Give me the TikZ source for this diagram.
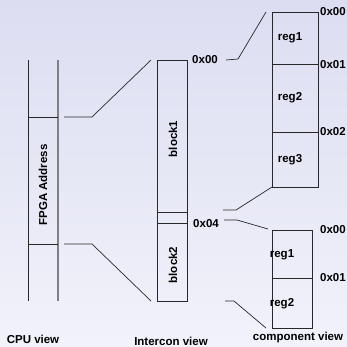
\documentclass[tikz,border=0pt]{standalone}
\usepackage{fontspec}
\setmainfont{Liberation Sans}
\usetikzlibrary{positioning}

\definecolor{bgtop}{RGB}{220,221,241}
\definecolor{bgbot}{RGB}{241,242,250}
\definecolor{edge}{RGB}{40,40,40}

\tikzset{
    txt/.style={font=\bfseries\fontsize{11.5}{13}\selectfont, inner sep=0pt},
    box/.style={draw=edge, line width=0.8pt},
    wire/.style={draw=edge, line width=0.7pt},
}

\begin{document}
\begin{tikzpicture}[x=1pt, y=-1pt]
    \shade[top color=bgtop, bottom color=bgbot] (0,0) rectangle (347,346);
    \useasboundingbox (0,0) rectangle (347,346);

    % CPU view
    \draw[box] (28,60) -- (28,301);
    \draw[line width=1.6pt, gray] (58,60) -- (58,301);
    \draw[box] (28,117) -- (58,117);
    \draw[box] (28,244) -- (58,244);
    \node[txt, rotate=90] (fpga) at (43,185) {FPGA Address};

    % Intercon view
    \draw[box] (157,60) rectangle (187,301);
    \draw[box] (157,212) -- (187,212);
    \draw[box] (157,223) -- (187,223);
    \node[txt, rotate=90] (block1) at (173,139) {block1};
    \node[txt, rotate=90] (block2) at (173,265) {block2};

    % component view
    \draw[box] (272,12) rectangle (318,187);
    \draw[box] (272,64) -- (318,64);
    \draw[box] (272,132) -- (318,132);
    \node[txt] (r1a) at (290,38) {reg1};
    \node[txt] (r2a) at (290,98) {reg2};
    \node[txt] (r3a) at (290,160) {reg3};

    \draw[box] (272,230) rectangle (312,328);
    \draw[box] (272,278) -- (312,278);
    \node[txt] (r1b) at (282,255) {reg1};
    \node[txt] (r2b) at (282,304) {reg2};

    % addresses
    \node[txt] (a0) at (205,60) {0x00};
    \node[txt] (a4) at (206,224) {0x04};
    \node[txt, anchor=west] (c0) at (320,12) {0x00};
    \node[txt, anchor=west] (c1) at (320,65) {0x01};
    \node[txt, anchor=west] (c2) at (320,132) {0x02};
    \node[txt, anchor=west] (d0) at (320,230) {0x00};
    \node[txt, anchor=west] (d1) at (320,278) {0x01};

    % mapping lines
    \coordinate (p1) at (64,117);   \coordinate (p2) at (92,117);
    \coordinate (p3) at (151,60);
    \coordinate (q1) at (64,244);   \coordinate (q2) at (92,244);
    \coordinate (q3) at (151,301);
    \coordinate (u1) at (226,60);   \coordinate (u2) at (238,59);
    \coordinate (u3) at (266,12);
    \coordinate (v1) at (223,210);  \coordinate (v2) at (236,210);
    \coordinate (v3) at (272,187);
    \coordinate (w1) at (224,220);  \coordinate (w2) at (237,220);
    \coordinate (w3) at (268,229);
    \coordinate (z1) at (225,301);  \coordinate (z2) at (234,301);
    \coordinate (z3) at (266,328);
    \draw[wire] (p1) -- (p2) -- (p3);
    \draw[wire] (q1) -- (q2) -- (q3);
    \draw[wire] (u1) -- (u2) -- (u3);
    \draw[wire] (v1) -- (v2) -- (v3);
    \draw[wire] (w1) -- (w2) -- (w3);
    \draw[wire] (z1) -- (z2) -- (z3);

    % titles
    \node[txt, anchor=base] (cpu) at (33,343) {CPU view};
    \node[txt, anchor=base] (icv) at (171,345) {Intercon view};
    \node[txt, anchor=base] (cmp) at (298,340) {component view};
\end{tikzpicture}
\end{document}
